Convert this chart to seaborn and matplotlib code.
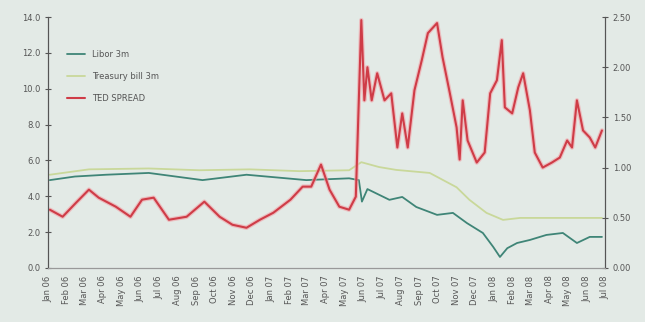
import pandas as pd
import numpy as np
import matplotlib
matplotlib.use("Agg")
import matplotlib.pyplot as plt
import matplotlib.dates as mdates
import seaborn as sns

# --- data ---
libor_dates = ["2006-01-04", "2006-02-14", "2006-04-06", "2006-06-15", "2006-09-11", "2006-11-22",
               "2007-02-28", "2007-05-09", "2007-05-25", "2007-05-30", "2007-06-08", "2007-06-11",
               "2007-07-14", "2007-08-04", "2007-08-27", "2007-09-30", "2007-10-26", "2007-11-18",
               "2007-12-14", "2007-12-31", "2008-01-11", "2008-01-23", "2008-02-08", "2008-02-29",
               "2008-03-27", "2008-04-23", "2008-05-16", "2008-06-06", "2008-06-26"]
libor_vals = [4.9, 5.1, 5.2, 5.3, 4.9, 5.2,
              4.9, 5.0, 4.9, 3.7, 4.4, 4.35,
              3.8, 3.96, 3.4, 2.96, 3.07, 2.5,
              1.95, 1.17, 0.61, 1.1, 1.39, 1.56,
              1.84, 1.95, 1.39, 1.73, 1.73]

tbill_dates = ["2006-01-04", "2006-03-09", "2006-06-15", "2006-09-06", "2006-11-27", "2007-02-17",
               "2007-05-09", "2007-05-29", "2007-06-27", "2007-07-25", "2007-09-18", "2007-11-01",
               "2007-11-22", "2007-12-20", "2008-01-16", "2008-02-13", "2008-04-18", "2008-06-26"]
tbill_vals = [5.2, 5.5, 5.55, 5.45, 5.5, 5.4,
              5.45, 5.9, 5.63, 5.47, 5.3, 4.5,
              3.8, 3.07, 2.68, 2.79, 2.79, 2.79]

ted_dates = ["2006-01-04", "2006-01-25", "2006-02-16", "2006-03-09", "2006-03-25", "2006-04-22",
             "2006-05-16", "2006-06-04", "2006-06-23", "2006-07-18", "2006-08-16", "2006-09-14",
             "2006-10-09", "2006-10-30", "2006-11-22", "2006-12-14", "2007-01-05", "2007-02-02",
             "2007-02-22", "2007-03-08", "2007-03-24", "2007-04-07", "2007-04-23", "2007-05-09",
             "2007-05-20", "2007-05-29", "2007-06-03", "2007-06-08", "2007-06-15", "2007-06-24",
             "2007-07-06", "2007-07-17", "2007-07-27", "2007-08-04", "2007-08-13", "2007-08-24",
             "2007-09-05", "2007-09-15", "2007-09-30", "2007-10-09", "2007-10-21", "2007-11-01",
             "2007-11-06", "2007-11-11", "2007-11-19", "2007-12-04", "2007-12-17", "2007-12-26",
             "2008-01-06", "2008-01-14", "2008-01-19", "2008-01-31", "2008-02-10", "2008-02-18",
             "2008-02-29", "2008-03-08", "2008-03-21", "2008-04-05", "2008-04-18", "2008-04-30",
             "2008-05-08", "2008-05-16", "2008-05-26", "2008-06-06", "2008-06-15", "2008-06-26"]
ted_vals = [0.58, 0.51, 0.65, 0.78, 0.70, 0.61,
            0.51, 0.68, 0.70, 0.48, 0.51, 0.66,
            0.51, 0.43, 0.40, 0.48, 0.55, 0.68,
            0.81, 0.81, 1.03, 0.78, 0.61, 0.58,
            0.71, 2.47, 1.67, 2.00, 1.67, 1.94,
            1.67, 1.74, 1.20, 1.54, 1.20, 1.77,
            2.07, 2.34, 2.44, 2.10, 1.74, 1.40,
            1.08, 1.67, 1.27, 1.05, 1.15, 1.74,
            1.87, 2.27, 1.60, 1.54, 1.80, 1.94,
            1.57, 1.15, 1.00, 1.05, 1.10, 1.27,
            1.20, 1.67, 1.37, 1.30, 1.20, 1.37]

labels = ["Libor 3m", "Treasury bill 3m", "TED SPREAD"]
left_ticks = [0, 2, 4, 6, 8, 10, 12, 14]
right_ticks = [0, 0.5, 1.0, 1.5, 2.0, 2.5]

libor = pd.DataFrame({"date": pd.to_datetime(libor_dates), "val": libor_vals})
tbill = pd.DataFrame({"date": pd.to_datetime(tbill_dates), "val": tbill_vals})
ted = pd.DataFrame({"date": pd.to_datetime(ted_dates), "val": ted_vals})

bg = "#e3eae6"
sns.set_style("white", {"axes.facecolor": bg, "figure.facecolor": bg})
plt.rcParams["font.family"] = ["DejaVu Sans"]

fig, ax = plt.subplots(figsize=(6.45, 3.22), dpi=100)
fig.subplots_adjust(left=0.0744, right=0.938, top=0.947, bottom=0.168)
ax2 = ax.twinx()

sns.lineplot(data=libor, x="date", y="val", ax=ax, color="#3f8577", lw=1.3, label=labels[0], legend=False)
sns.lineplot(data=tbill, x="date", y="val", ax=ax, color="#c9d89a", lw=1.3, label=labels[1], legend=False)
# soft pink halo under the spread line, like the reference
ax2.plot(ted["date"], ted["val"], color="#f2a0a6", lw=3.2, alpha=0.6, solid_joinstyle="round")
sns.lineplot(data=ted, x="date", y="val", ax=ax2, color="#cf3c47", lw=1.5, label=labels[2], legend=False)

ax.set_ylim(0, 14)
ax2.set_ylim(0, 2.5)
ax.set_xlim(pd.Timestamp("2006-01-01"), pd.Timestamp("2008-07-01"))
ax.set_yticks(left_ticks)
ax.set_yticklabels([f"{t:.1f}" for t in left_ticks])
ax2.set_yticks(right_ticks)
ax2.set_yticklabels([f"{t:.2f}" for t in right_ticks])
ax.set_xlabel("")
ax.set_ylabel("")
ax2.set_ylabel("")

ax.xaxis.set_major_locator(mdates.MonthLocator())
ax.xaxis.set_major_formatter(mdates.DateFormatter("%b %y"))
for a in (ax, ax2):
    a.tick_params(axis="both", labelsize=6, colors="#555555", direction="inout", length=4, width=0.8)
    a.spines["top"].set_visible(False)
    a.spines["bottom"].set_color("#999999")
    a.spines["left"].set_color("#555555")
    a.spines["right"].set_color("#555555")
plt.setp(ax.get_xticklabels(), rotation=90)

h1, lab1 = ax.get_legend_handles_labels()
h2, lab2 = ax2.get_legend_handles_labels()
ax.legend(h1 + h2, lab1 + lab2, loc="upper left", bbox_to_anchor=(0.02, 0.9), frameon=False,
          fontsize=6, labelspacing=1.6, handlelength=2.2, labelcolor="#555555")

fig.savefig("out.png", dpi=100, facecolor=bg)
